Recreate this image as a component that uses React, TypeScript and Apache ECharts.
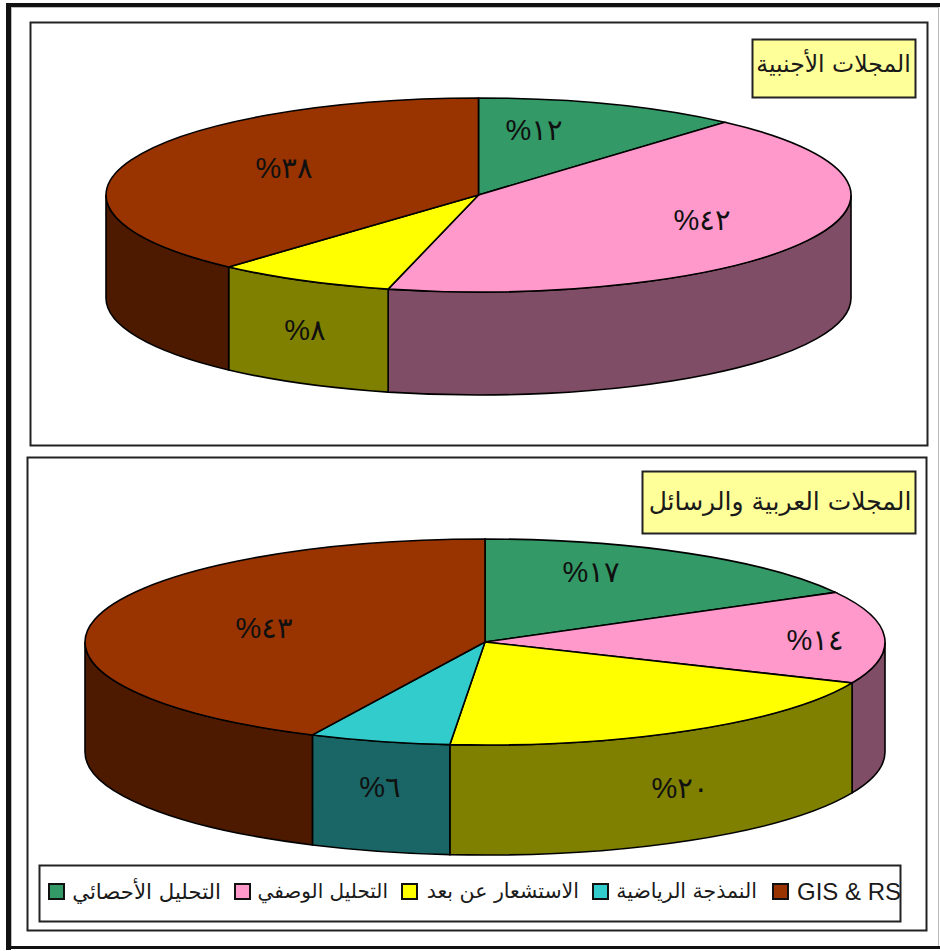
import React, { useEffect, useRef } from "react";
import * as echarts from "echarts";

const categories = ["التحليل الأحصائي", "التحليل الوصفي", "الاستشعار عن بعد", "النمذجة الرياضية", "GIS & RS"];
const foreignValues = [11.5, 42.4, 7.8, 0, 38.3];
const arabicValues = [17, 14.5, 19.9, 5.7, 42.9];
const foreignLabels = ["%١٢", "%٤٢", "%٨", "", "%٣٨"];
const arabicLabels = ["%١٧", "%١٤", "%٢٠", "%٦", "%٤٣"];
const colors = ["#339966", "#FF99CC", "#FFFF00", "#33CCCC", "#993300"];
const sideColors = ["#1A4D33", "#804D66", "#808000", "#1A6666", "#4D1A00"];
const foreignTitle = "المجلات الأجنبية";
const arabicTitle = "المجلات العربية والرسائل";

const ARABIC_FONT = '"DejaVu Sans", "Liberation Sans", sans-serif';
const LATIN_FONT = '"Liberation Sans", "DejaVu Sans", sans-serif';

const foreignPie = {
  cx: 478.5, cy: 195, rx: 372.5, ry: 97, depth: 103,
  labelPos: [[534, 130], [702, 220], [305, 330], null, [284, 168]],
};
const arabicPie = {
  cx: 485, cy: 642, rx: 400, ry: 103, depth: 110,
  labelPos: [[591, 572], [815, 640], [680, 788], [380, 787], [264, 628]],
};

function pieSeries(name: string, values: number[], labels: string[], geo: any) {
  const total = values.reduce((a, b) => a + b, 0);
  const pt = (deg: number, dy = 0) => {
    const r = (deg * Math.PI) / 180;
    return `${geo.cx + geo.rx * Math.sin(r)} ${geo.cy - geo.ry * Math.cos(r) + dy}`;
  };
  return {
    type: "custom",
    name,
    coordinateSystem: "none",
    silent: true,
    data: values.map((v) => [v]),
    renderItem: (params: any, api: any) => {
      const i = params.dataIndex;
      const value = api.value(0);
      const before = values.slice(0, i).reduce((a, b) => a + b, 0);
      const a = (before / total) * 360;
      const b = ((before + value) / total) * 360;
      const children: any[] = [];
      const sa = Math.max(a, 90);
      const sb = Math.min(b, 270);
      if (sb > sa) {
        const large = sb - sa > 180 ? 1 : 0;
        children.push({
          type: "path",
          shape: {
            pathData: `M ${pt(sa)} A ${geo.rx} ${geo.ry} 0 ${large} 1 ${pt(sb)} L ${pt(sb, geo.depth)} A ${geo.rx} ${geo.ry} 0 ${large} 0 ${pt(sa, geo.depth)} Z`,
          },
          style: { fill: sideColors[i], stroke: "#000", lineWidth: 1.6 },
        });
      }
      if (value > 0) {
        const large = b - a > 180 ? 1 : 0;
        children.push({
          type: "path",
          shape: {
            pathData: `M ${geo.cx} ${geo.cy} L ${pt(a)} A ${geo.rx} ${geo.ry} 0 ${large} 1 ${pt(b)} Z`,
          },
          style: { fill: colors[i], stroke: "#000", lineWidth: 1.6 },
        });
      }
      const lp = geo.labelPos[i];
      if (lp && labels[i]) {
        children.push({
          type: "text",
          x: lp[0],
          y: lp[1],
          z2: 10,
          style: {
            text: labels[i],
            font: `29px ${LATIN_FONT}`,
            fill: "#101010",
            textAlign: "center",
            textVerticalAlign: "middle",
          },
        });
      }
      return { type: "group", children };
    },
  };
}

const frameRect = (x: number, y: number, w: number, h: number, lineWidth = 2, fill = "transparent", stroke = "#222") => ({
  type: "rect",
  shape: { x, y, width: w, height: h },
  style: { fill, stroke, lineWidth },
  silent: true,
});

const bar = (x: number, y: number, w: number, h: number, fill: string) => ({
  type: "rect",
  shape: { x, y, width: w, height: h },
  style: { fill },
  silent: true,
});

const titleText = (text: string, x: number, y: number, size: number) => ({
  type: "text",
  x,
  y,
  style: {
    text,
    font: `${size}px ${ARABIC_FONT}`,
    fill: "#1a1a1a",
    textAlign: "center",
    textVerticalAlign: "middle",
  },
});

const legendSlots = [
  { swatch: 49, textRight: 221, size: 21.3 },
  { swatch: 235, textRight: 388, size: 20 },
  { swatch: 402, textRight: 579, size: 20.5 },
  { swatch: 593, textRight: 757, size: 20.5 },
  { swatch: 773, textRight: 901, size: 24 },
];

function legendGraphics() {
  const out: any[] = [];
  categories.forEach((name, i) => {
    const s = legendSlots[i];
    out.push(frameRect(s.swatch, 884, 15, 15, 2, colors[i], "#111"));
    out.push({
      type: "text",
      x: s.textRight,
      y: 891,
      style: {
        text: name,
        font: `${s.size}px ${i === 4 ? LATIN_FONT : ARABIC_FONT}`,
        fill: "#1a1a1a",
        textAlign: "right",
        textVerticalAlign: "middle",
      },
    });
  });
  return out;
}

export default function App() {
  const ref = useRef<HTMLDivElement>(null);
  useEffect(() => {
    const chart = echarts.init(ref.current!, null, { renderer: "svg", width: 940, height: 951 });
    chart.setOption({
      animation: false,
      backgroundColor: "#ffffff",
      series: [
        pieSeries("foreign", foreignValues, foreignLabels, foreignPie),
        pieSeries("arabic", arabicValues, arabicLabels, arabicPie),
      ],
      graphic: {
        elements: [
          bar(6, 3, 934, 4, "#111"),
          bar(6, 3, 5, 947, "#111"),
          bar(6, 946, 934, 3, "#111"),
          bar(938, 7, 1, 939, "#bbb"),
          bar(11, 7, 927, 1, "#bbb"),
          bar(11, 7, 1, 939, "#bbb"),
          frameRect(30.5, 22.5, 897, 423),
          frameRect(27.5, 457.5, 899, 473),
          frameRect(752.5, 39.5, 163, 58, 2, "#FFFF99"),
          titleText(foreignTitle, 833.5, 64, 23.5),
          frameRect(642.5, 471.5, 273, 62, 2, "#FFFF99"),
          titleText(arabicTitle, 780, 501, 25),
          frameRect(39.5, 865.5, 861, 56),
          ...legendGraphics(),
        ],
      },
    });
    return () => chart.dispose();
  }, []);
  return <div ref={ref} style={{ position: "absolute", left: 0, top: 0, width: 940, height: 951 }} />;
}
